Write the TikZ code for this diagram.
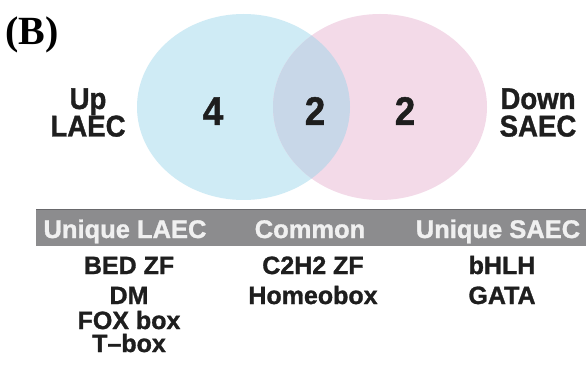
\documentclass[tikz,border=0pt]{standalone}
\usepackage{fontspec}
\newfontfamily\hv{Liberation Sans}[FakeBold=1.2]
\newfontfamily\hvn{Liberation Sans}[FakeStretch=0.92,FakeBold=1.2]
\newfontfamily\tm{Liberation Serif}
\definecolor{cblue}{RGB}{207,235,245}
\definecolor{cpink}{RGB}{243,218,232}
\definecolor{cover}{RGB}{200,215,232}
\definecolor{cbar}{RGB}{140,140,142}
\definecolor{cbarline}{RGB}{105,105,108}
\definecolor{ctxt}{RGB}{30,30,30}
\definecolor{chead}{RGB}{240,240,240}
\begin{document}
\begin{tikzpicture}[x=1pt,y=-1pt,
  lbl/.style={inner sep=0pt,anchor=base,align=center,font=\hvn\bfseries\fontsize{30}{27.5}\selectfont,text=ctxt},
  num/.style={inner sep=0pt,anchor=base,font=\hvn\bfseries\fontsize{40}{40}\selectfont,text=ctxt},
  head/.style={inner sep=0pt,anchor=base,font=\hv\bfseries\fontsize{25.5}{25.5}\selectfont,text=chead},
  item/.style={inner sep=0pt,anchor=base,font=\hv\bfseries\fontsize{25}{25}\selectfont,text=ctxt}]
\useasboundingbox (0,0) rectangle (586,366);
\fill[white] (0,0) rectangle (586,366);
% Venn circles
\fill[cblue] (243.5,107) ellipse [x radius=106.5, y radius=93];
\fill[cpink] (380,107) ellipse [x radius=107, y radius=93];
\begin{scope}
  \clip (243.5,107) ellipse [x radius=106.5, y radius=93];
  \fill[cover] (380,107) ellipse [x radius=107, y radius=93];
\end{scope}
% panel label
\node[inner sep=0pt,anchor=base west,font=\tm\bfseries\fontsize{40}{40}\selectfont] (panel) at (5,45) {(B)};
% side labels
\node[lbl] (uplaec) at (88,136.5) {Up\\LAEC};
\node[lbl] (downsaec) at (538,136.5) {Down\\SAEC};
% numbers
\node[num] (n1) at (213,125) {4};
\node[num] (n2) at (315,125) {2};
\node[num] (n3) at (405,125) {2};
% header bar
\fill[cbar] (36,209) rectangle (586,246);
\draw[cbarline,line width=1.5pt] (36,209.75) -- (586,209.75);
\node[head] (h1) at (125,238) {Unique LAEC};
\node[head] (h2) at (310,238) {Common};
\node[head] (h3) at (498,238) {Unique SAEC};
% items
\node[item] (a1) at (129,274) {BED ZF};
\node[item] (a2) at (129,304) {DM};
\node[item] (a3) at (129,329) {FOX box};
\node[item] (a4) at (129,352) {T\textendash box};
\node[item] (b1) at (313,274) {C2H2 ZF};
\node[item] (b2) at (313,304) {Homeobox};
\node[item] (c1) at (502,274) {bHLH};
\node[item] (c2) at (502,304) {GATA};
\end{tikzpicture}
\end{document}
